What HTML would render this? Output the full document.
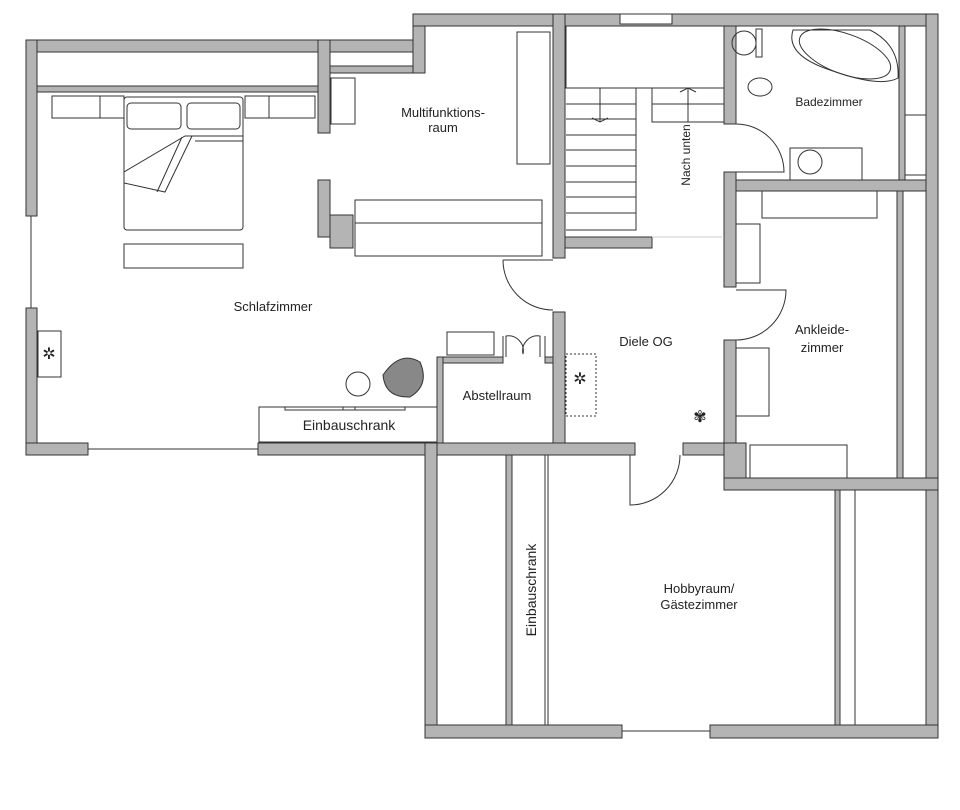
<!DOCTYPE html>
<html><head><meta charset="utf-8"><style>
html,body{margin:0;padding:0;background:#fff;}
svg{display:block;}
text{font-family:"Liberation Sans",sans-serif;fill:#222;}
</style></head><body>
<svg width="960" height="810" viewBox="0 0 960 810" xmlns="http://www.w3.org/2000/svg">
<g fill="#b4b4b4" stroke="#333" stroke-width="1">
<!-- bedroom outer -->
<rect x="26" y="40" width="304" height="12"/>
<rect x="26" y="40" width="11" height="176"/>
<rect x="26" y="308" width="11" height="147"/>
<rect x="26" y="443" width="62" height="12"/>
<rect x="258" y="443" width="180" height="12"/>
<rect x="37" y="86" width="281" height="6"/>
<rect x="318" y="40" width="12" height="93"/>
<rect x="330" y="40" width="90" height="12"/>
<rect x="330" y="66" width="90" height="7"/>
<rect x="413" y="14" width="12" height="59"/>
<rect x="318" y="180" width="12" height="57"/>
<rect x="330" y="215" width="23" height="33"/>
<!-- top -->
<rect x="413" y="14" width="525" height="12"/>
<rect x="926" y="14" width="12" height="724"/>
<rect x="553" y="14" width="12" height="244"/>
<rect x="553" y="312" width="12" height="131"/>
<rect x="565" y="237" width="87" height="11"/>
<rect x="724" y="26" width="12" height="98"/>
<rect x="724" y="180" width="202" height="11"/>
<rect x="724" y="172" width="12" height="115"/>
<rect x="724" y="340" width="12" height="150"/>
<rect x="724" y="443" width="22" height="47"/>
<rect x="724" y="478" width="214" height="12"/>
<rect x="899" y="26" width="6" height="154"/>
<rect x="897" y="191" width="6" height="287"/>
<!-- abstell -->
<rect x="437" y="357" width="66" height="6"/>
<rect x="437" y="357" width="6" height="86"/>
<rect x="545" y="357" width="8" height="6"/>
<!-- diele bottom & hobby -->
<rect x="425" y="443" width="210" height="12"/>
<rect x="683" y="443" width="41" height="12"/>
<rect x="425" y="443" width="12" height="295"/>
<rect x="425" y="725" width="197" height="13"/>
<rect x="710" y="725" width="228" height="13"/>
<rect x="506" y="455" width="6" height="270"/>
<rect x="835" y="490" width="5" height="235"/>
<rect x="855" y="490" width="71" height="235" fill="#fff" stroke="none"/>
<rect x="437" y="455" width="0" height="0"/>
</g>
<g fill="none" stroke="#333" stroke-width="1">
<rect x="855" y="490" width="71" height="235"/>
<line x1="545" y1="455" x2="545" y2="725"/><line x1="548" y1="455" x2="548" y2="725"/>
<!-- windows -->
<line x1="31" y1="216" x2="31" y2="308"/>
<line x1="88" y1="449" x2="258" y2="449"/>
<line x1="622" y1="731" x2="710" y2="731"/>
<rect x="620" y="14" width="52" height="10" fill="#fff"/>
<!-- bedroom furniture -->
<rect x="52" y="96" width="72" height="22"/><line x1="100" y1="96" x2="100" y2="118"/>
<rect x="245" y="96" width="70" height="22"/><line x1="269" y1="96" x2="269" y2="118"/>
<rect x="124" y="97" width="119" height="133" rx="3"/>
<rect x="127" y="103" width="54" height="26" rx="4"/><rect x="187" y="103" width="53" height="26" rx="4"/>
<path d="M124 172 L185 136 L243 136 M124 183 L165 192 L192 136 M157 192 L182 137 M195 141 L243 141"/>
<rect x="124" y="244" width="119" height="24"/>
<rect x="331" y="78" width="24" height="46"/>
<rect x="38" y="331" width="23" height="46"/>
<circle cx="358" cy="384" r="12"/>
<path d="M383 375 Q400 350 420 362 Q430 385 410 397 Q385 398 383 375Z" fill="#888"/>
<rect x="259" y="407" width="178" height="35"/>
<rect x="285" y="407" width="70" height="3"/><rect x="343" y="407" width="62" height="3"/>
<!-- multi room -->
<rect x="517" y="32" width="33" height="132"/>
<rect x="355" y="200" width="187" height="56"/>
<line x1="355" y1="223" x2="542" y2="223"/>
<!-- stairs -->
<rect x="566" y="26" width="158" height="62"/>
<path d="M566 88 H636 V230 H566" />
<g><line x1="566" y1="104" x2="636" y2="104"/><line x1="566" y1="119" x2="636" y2="119"/><line x1="566" y1="135" x2="636" y2="135"/><line x1="566" y1="150" x2="636" y2="150"/><line x1="566" y1="166" x2="636" y2="166"/><line x1="566" y1="182" x2="636" y2="182"/><line x1="566" y1="197" x2="636" y2="197"/><line x1="566" y1="213" x2="636" y2="213"/></g>
<rect x="652" y="88" width="72" height="34"/><line x1="652" y1="104" x2="724" y2="104"/>
<line x1="600" y1="88" x2="600" y2="122"/><line x1="688" y1="88" x2="688" y2="122"/>
<path d="M592 118 L600 122 L608 118 M680 92 L688 88 L696 92"/>
<line x1="652" y1="237" x2="722" y2="237" stroke="#ccc"/>
<!-- doors -->
<path d="M736 124 A48 48 0 0 1 784 172 L736 172"/>
<path d="M503 260 A50 50 0 0 0 553 310"/><line x1="503" y1="260" x2="553" y2="260"/>
<path d="M736 290 L786 290 A50 50 0 0 1 736 340"/>
<path d="M630 455 L630 505 A50 50 0 0 0 680 455"/>
<path d="M506 357 V336 A15 15 0 0 1 523 354 A15 15 0 0 1 540 336 V357 M503 357 V336 M545 357 V336"/>
<rect x="447" y="332" width="47" height="23"/>
<!-- bath -->
<circle cx="744" cy="43" r="12"/><rect x="756" y="29" width="6" height="28"/>
<ellipse cx="760" cy="87" rx="12" ry="9"/>
<path d="M793 30 Q785 55 830 70 Q880 88 898 78 Q900 45 870 30 Z"/>
<ellipse cx="845" cy="54" rx="48" ry="20" transform="rotate(20 845 54)"/>
<rect x="790" y="148" width="72" height="32"/><circle cx="810" cy="162" r="12"/>
<rect x="905" y="115" width="21" height="60"/>
<!-- ankleide -->
<rect x="762" y="191" width="115" height="27"/>
<rect x="736" y="224" width="24" height="59"/>
<rect x="736" y="348" width="33" height="68"/>
<rect x="750" y="445" width="97" height="33"/>
<rect x="566" y="354" width="30" height="62" stroke-dasharray="2 2"/>
</g>
<text x="553" y="577" font-size="0"></text>
<g font-size="13" text-anchor="middle">
<text x="443" y="117">Multifunktions-</text><text x="443" y="132">raum</text>
<text x="273" y="311">Schlafzimmer</text>
<text x="349" y="430" font-size="14">Einbauschrank</text>
<text x="497" y="400">Abstellraum</text>
<text x="646" y="346">Diele OG</text>
<text x="829" y="106" font-size="12">Badezimmer</text>
<text x="822" y="334">Ankleide-</text><text x="822" y="352">zimmer</text>
<text x="699" y="593">Hobbyraum/</text><text x="699" y="609">Gästezimmer</text>
<text transform="translate(690 155) rotate(-90)" font-size="12">Nach unten</text>
<text transform="translate(536 590) rotate(-90)" font-size="14">Einbauschrank</text>
</g>
<g font-size="16" text-anchor="middle"><text x="49" y="359">✲</text><text x="580" y="384">✲</text><text x="700" y="422">✾</text></g>
</svg>
</body></html>
